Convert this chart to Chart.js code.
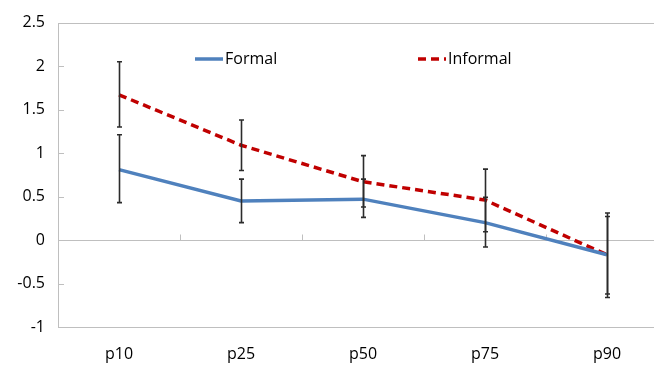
<!DOCTYPE html>
<html>
<head>
<meta charset="utf-8">
<script src="https://cdn.jsdelivr.net/npm/chart.js@4/dist/chart.umd.min.js"></script>
<style>
  html, body { margin: 0; padding: 0; background: #fff; overflow: hidden; }
  #wrap { position: relative; width: 680px; height: 365px; }
</style>
</head>
<body>
<div id="wrap"><canvas id="c"></canvas></div>
<script>
// Percentile categories
const categories = ['p10', 'p25', 'p50', 'p75', 'p90'];

// Point estimates
const formal   = [0.81, 0.45, 0.47, 0.20, -0.17];
const informal = [1.67, 1.09, 0.67, 0.46, -0.17];

// Confidence interval bounds
const formalLow    = [0.43, 0.20, 0.26, -0.08, -0.62];
const formalHigh   = [1.21, 0.70, 0.70, 0.49, 0.27];
const informalLow  = [1.30, 0.80, 0.38, 0.095, -0.66];
const informalHigh = [2.05, 1.38, 0.97, 0.815, 0.31];

// Y axis range and step
const yMin = -1, yMax = 2.5, yStep = 0.5;

const FRAME = '#BFBFBF';
const FONT = "'Open Sans', 'Noto Sans', sans-serif";

// Plot frame, zero line and inner tick marks
const framePlugin = {
  id: 'frame',
  beforeDatasetsDraw(chart) {
    const { ctx, chartArea: a, scales: { x, y } } = chart;
    ctx.save();
    ctx.strokeStyle = FRAME;
    ctx.lineWidth = 1;
    ctx.strokeRect(Math.round(a.left) + 0.5, Math.round(a.top) + 0.5,
                   Math.round(a.right - a.left), Math.round(a.bottom - a.top));
    const y0 = Math.round(y.getPixelForValue(0)) + 0.5;
    ctx.beginPath();
    ctx.moveTo(a.left, y0); ctx.lineTo(a.right, y0);
    // y tick marks pointing into the plot
    for (let v = yMin + yStep; v < yMax; v += yStep) {
      if (Math.abs(v) < 1e-9) continue;
      const py = Math.round(y.getPixelForValue(v)) + 0.5;
      ctx.moveTo(a.left, py); ctx.lineTo(a.left + 6, py);
    }
    // category separators rising from the zero line
    for (let i = 0; i < categories.length; i++) {
      const px = Math.round((x.getPixelForValue(i) + x.getPixelForValue(i + 1)) / 2) + 0.5;
      ctx.moveTo(px, y0); ctx.lineTo(px, y0 - 6);
    }
    ctx.stroke();
    ctx.restore();
  }
};

// Vertical interval bars with caps
const errorBarPlugin = {
  id: 'errorBars',
  afterDatasetsDraw(chart) {
    const { ctx, scales: { x, y } } = chart;
    const sets = [[formalLow, formalHigh], [informalLow, informalHigh]];
    ctx.save();
    ctx.strokeStyle = '#2b2b2b';
    ctx.lineWidth = 1.6;
    sets.forEach(([lo, hi]) => {
      categories.forEach((c, i) => {
        const px = Math.round(x.getPixelForValue(i)) + 0.5;
        const yl = y.getPixelForValue(lo[i]);
        const yh = y.getPixelForValue(hi[i]);
        ctx.beginPath();
        ctx.moveTo(px, yl); ctx.lineTo(px, yh);
        ctx.moveTo(px - 2.5, yl); ctx.lineTo(px + 2.5, yl);
        ctx.moveTo(px - 2.5, yh); ctx.lineTo(px + 2.5, yh);
        ctx.stroke();
      });
    });
    ctx.restore();
  }
};

// Legend drawn inside the plot area
const legendPlugin = {
  id: 'innerLegend',
  afterDraw(chart) {
    const { ctx } = chart;
    const items = [
      { ds: chart.data.datasets[0], x: 195 },
      { ds: chart.data.datasets[1], x: 418 }
    ];
    const ly = 59;
    ctx.save();
    items.forEach(it => {
      ctx.strokeStyle = it.ds.borderColor;
      ctx.lineWidth = it.ds.borderWidth;
      ctx.setLineDash(it.ds.borderDash || []);
      ctx.beginPath();
      ctx.moveTo(it.x, ly); ctx.lineTo(it.x + 28, ly);
      ctx.stroke();
      ctx.setLineDash([]);
      ctx.fillStyle = '#000';
      ctx.font = '16px ' + FONT;
      ctx.textBaseline = 'middle';
      ctx.textAlign = 'left';
      ctx.fillText(it.ds.label, it.x + 30, ly);
    });
    ctx.restore();
  }
};

new Chart(document.getElementById('c'), {
  type: 'line',
  data: {
    labels: categories,
    datasets: [
      {
        label: 'Formal',
        data: formal,
        borderColor: '#4F81BD',
        borderWidth: 3.5,
        pointRadius: 0,
        tension: 0,
        fill: false
      },
      {
        label: 'Informal',
        data: informal,
        borderColor: '#C00000',
        borderWidth: 3.5,
        borderDash: [8, 5],
        pointRadius: 0,
        tension: 0,
        fill: false
      }
    ]
  },
  options: {
    responsive: true,
    maintainAspectRatio: false,
    animation: false,
    devicePixelRatio: 1,
    layout: { padding: { top: 22, right: 12, left: 0, bottom: 0 } },
    plugins: {
      legend: { display: false },
      tooltip: { enabled: false }
    },
    scales: {
      x: {
        type: 'category',
        offset: true,
        grid: { display: false, drawTicks: false },
        border: { display: false },
        ticks: { color: '#000', font: { family: FONT, size: 16 }, padding: 18, maxRotation: 0 },
        afterFit(s) { s.height = 38; }
      },
      y: {
        min: yMin,
        max: yMax,
        grid: { display: false, drawTicks: false },
        border: { display: false },
        ticks: {
          stepSize: yStep,
          color: '#000',
          font: { family: FONT, size: 16 },
          padding: 13,
          callback: v => String(Math.round(v * 10) / 10)
        },
        afterFit(s) { s.width = 58; }
      }
    }
  },
  plugins: [framePlugin, errorBarPlugin, legendPlugin]
});
</script>
</body>
</html>
